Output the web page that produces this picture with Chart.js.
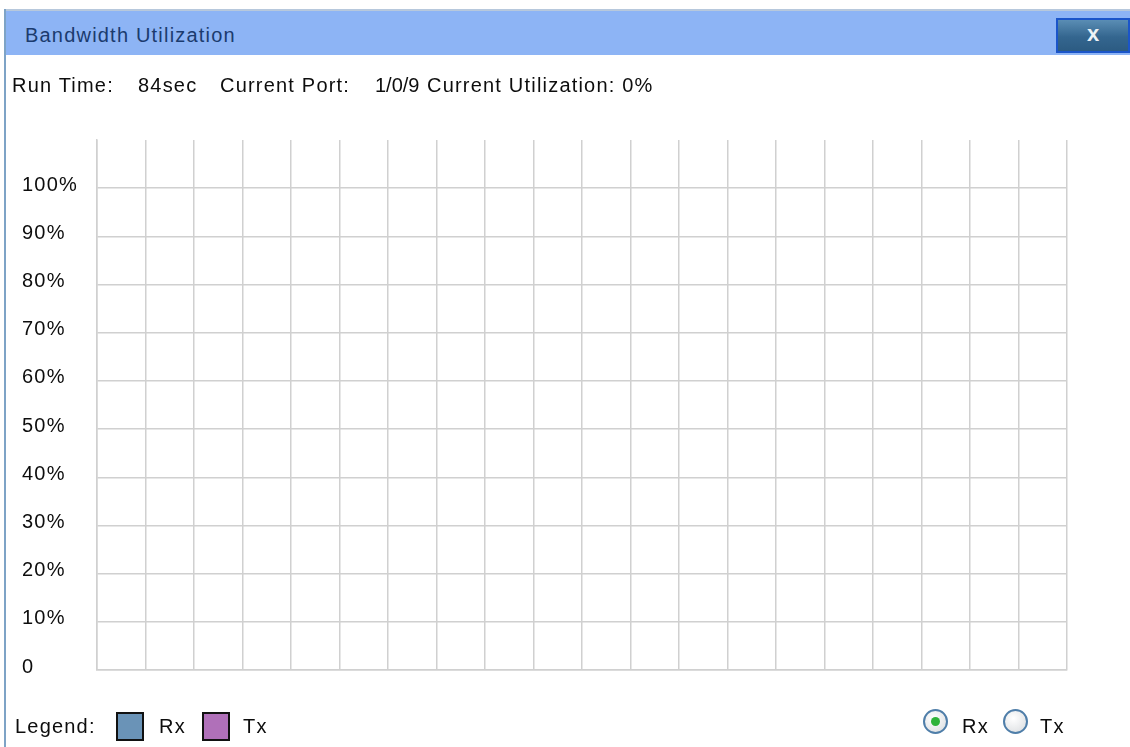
<!DOCTYPE html>
<html>
<head>
<meta charset="utf-8">
<title>Bandwidth Utilization</title>
<script src="https://cdn.jsdelivr.net/npm/chart.js@4/dist/chart.umd.min.js"></script>
<style>
    html, body { margin: 0; padding: 0; background: #fff; }
    body { width: 1130px; height: 747px; position: relative; overflow: hidden;
           font-family: 'Liberation Sans', Arial, sans-serif; font-size: 20px; letter-spacing: 1.2px; color: #0d0d0d; }
    #chart { position: absolute; left: 0; top: 0; }
    .abs { position: absolute; line-height: 24px; white-space: pre; }
    .frame-top { position: absolute; left: 4px; top: 9px; right: 0; height: 2px; background: #b7c8dc; }
    .frame-left { position: absolute; left: 4px; top: 9px; bottom: 0; width: 2px; background: #7ea3c6; }
    .titlebar { position: absolute; left: 6px; top: 11px; right: 0; height: 44px; background: #8db4f5; }
    .title { left: 25px; top: 23px; color: #1b3b6e; }
    .close { position: absolute; left: 1056px; top: 18px; width: 70px; height: 31px;
             border: 2px solid #1b55c9; background: linear-gradient(#5a8db4, #34668f 55%, #2c5b82);
             color: #eef2f6; font-weight: bold; font-size: 22px; letter-spacing: 0; text-align: center; line-height: 27px; }
    .swatch { position: absolute; width: 24px; height: 25px; border: 2px solid #111; }
    .radio { position: absolute; width: 21px; height: 21px; border-radius: 50%;
             border: 2px solid #4f7ea9; background: radial-gradient(circle at 40% 35%, #fff, #e4e6e8 70%, #cfd3d6); }
    .radio.on::after { content: ''; position: absolute; left: 6px; top: 6px; width: 9px; height: 9px;
                       border-radius: 50%; background: #2fb33a; }
</style>
</head>
<body>
<canvas id="chart" width="1130" height="747"></canvas>

<div class="frame-top"></div>
<div class="frame-left"></div>
<div class="titlebar"></div>
<div class="abs title">Bandwidth Utilization</div>
<div class="close">x</div>

<div class="abs" style="left:12px; top:73px">Run Time:</div>
<div class="abs" style="left:138px; top:73px" id="run-time"></div>
<div class="abs" style="left:220px; top:73px">Current Port:</div>
<div class="abs" style="left:375px; top:73px; letter-spacing:0" id="port"></div>
<div class="abs" style="left:427px; top:73px" id="util"></div>

<div id="legend"></div>

<script>
// ── Data ─────────────────────────────────────────────────────
const RUN_TIME = '84sec';
const CURRENT_PORT = '1/0/9';
const CURRENT_UTIL = 0;

const SERIES = ['Rx', 'Tx'];
const SERIES_COLORS = ['#6a93b7', '#b070b9'];
const rxValues = [];   // nothing sampled on screen yet
const txValues = [];

const X_SLOTS = 20;
const Y_TICKS = [0, 10, 20, 30, 40, 50, 60, 70, 80, 90, 100];
const Y_MAX = 110;

// ── Header text ──────────────────────────────────────────────
document.getElementById('run-time').textContent = RUN_TIME;
document.getElementById('port').textContent = CURRENT_PORT;
document.getElementById('util').textContent = `Current Utilization: ${CURRENT_UTIL}%`;

// ── Legend + radio row ───────────────────────────────────────
function buildLegend() {
    const box = document.getElementById('legend');
    let html = `<div class="abs" style="left:15px; top:714px">Legend:</div>`;
    const swatchX = [116, 202];
    const textX = [159, 243];
    SERIES.forEach((name, i) => {
        html += `<div class="swatch" style="left:${swatchX[i]}px; top:712px; background:${SERIES_COLORS[i]}"></div>`;
        html += `<div class="abs" style="left:${textX[i]}px; top:714px">${name}</div>`;
    });
    const radioX = [923, 1003];
    const radioTextX = [962, 1040];
    SERIES.forEach((name, i) => {
        html += `<div class="radio${i === 0 ? ' on' : ''}" style="left:${radioX[i]}px; top:709px"></div>`;
        html += `<div class="abs" style="left:${radioTextX[i]}px; top:714px">${name}</div>`;
    });
    box.innerHTML = html;
}

// ── Chart ────────────────────────────────────────────────────
const GRID = '#d0d0d0';

// canvas text gets the same loose spacing as the page text
const spacing = {
    id: 'spacing',
    beforeDraw: chart => { chart.ctx.letterSpacing = '1.2px'; },
};

function buildChart() {
    const toPoints = arr => arr.map((v, i) => ({ x: i, y: v }));

    new Chart(document.getElementById('chart'), {
        type: 'line',
        data: {
            datasets: [
                { label: SERIES[0], data: toPoints(rxValues), borderColor: SERIES_COLORS[0], borderWidth: 2, pointRadius: 0 },
                { label: SERIES[1], data: toPoints(txValues), borderColor: SERIES_COLORS[1], borderWidth: 2, pointRadius: 0 },
            ],
        },
        options: {
            responsive: false,
            animation: false,
            layout: { padding: { left: 22, top: 140, right: 63, bottom: 77 } },
            scales: {
                x: {
                    type: 'linear',
                    min: 0,
                    max: X_SLOTS,
                    ticks: { display: false, stepSize: 1 },
                    grid: { color: GRID, lineWidth: 1.5, drawTicks: false },
                    border: { display: true, color: GRID, width: 1.5 },
                    afterFit: s => { s.height = 0; },
                },
                y: {
                    min: 0,
                    max: Y_MAX,
                    afterBuildTicks: s => { s.ticks = Y_TICKS.concat([Y_MAX]).map(v => ({ value: v })); },
                    ticks: {
                        crossAlign: 'far',
                        labelOffset: -3,
                        color: '#0d0d0d',
                        font: { family: 'Liberation Sans', size: 20 },
                        callback: v => v === Y_MAX ? '' : (v === 0 ? '0' : v + '%'),
                    },
                    grid: {
                        drawTicks: false,
                        lineWidth: 1.5,
                        color: ctx => ctx.tick && ctx.tick.value === Y_MAX ? 'rgba(0,0,0,0)' : GRID,
                    },
                    border: { display: true, color: GRID, width: 1.5 },
                    afterFit: s => { s.width = 75; },
                },
            },
            plugins: {
                legend: { display: false },
                tooltip: { enabled: false },
            },
        },
        plugins: [spacing],
    });
}

buildLegend();
buildChart();
</script>
</body>
</html>
